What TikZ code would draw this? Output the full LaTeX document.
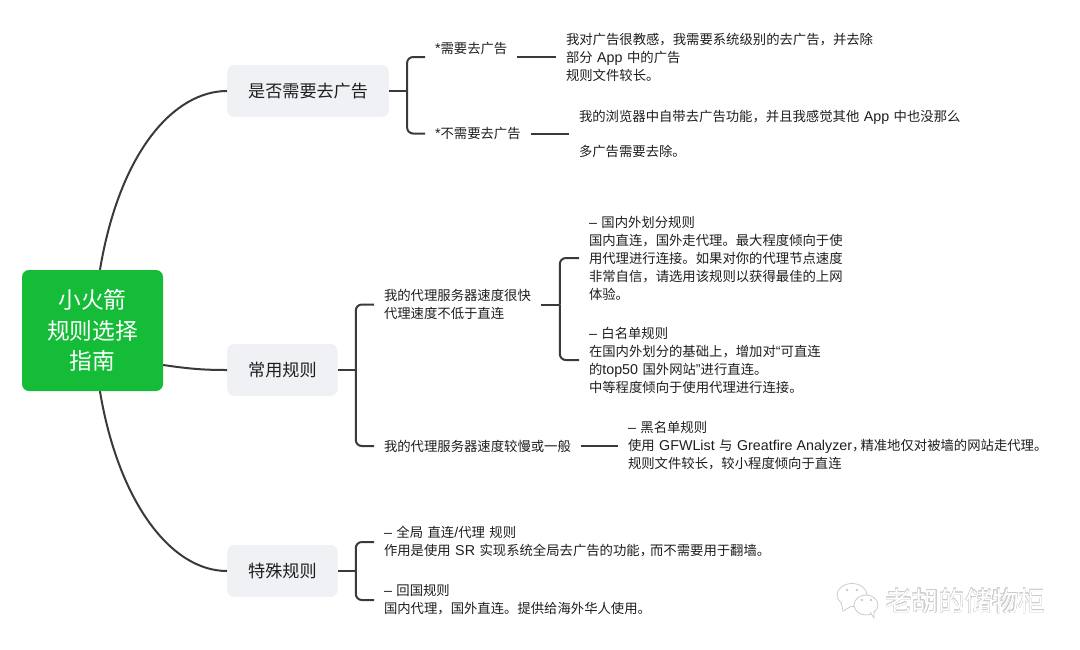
\documentclass[tikz,border=0pt]{standalone}
\usepackage{fontspec}
\usepackage[copies]{contour}
\setmainfont[WordSpace=1.5]{Noto Sans CJK SC}
\newfontfamily\latfont[Scale=1.07]{Liberation Sans}
\newcommand{\lat}[1]{{\latfont #1}}
\contourlength{0.2pt}
\contournumber{16}
\definecolor{rootgreen}{HTML}{14BC38}
\definecolor{topicgray}{HTML}{F0F1F5}
\definecolor{linegray}{HTML}{3A3A3A}
\definecolor{textgray}{HTML}{1E1E1E}
\definecolor{markgray}{HTML}{CCCCCC}
\tikzset{
  rootbox/.style={fill=rootgreen,text=white,rounded corners=7pt,minimum width=141pt,minimum height=121pt,
    inner sep=0pt,align=center,font=\fontsize{22.7}{30.5}\selectfont},
  topicbox/.style={fill=topicgray,text=textgray,rounded corners=7pt,minimum height=52pt,inner xsep=21pt,inner ysep=0pt,
    anchor=west,font=\fontsize{17.1}{22}\selectfont},
  leaf/.style={text=textgray,anchor=west,align=left,inner sep=0pt,outer xsep=10pt,
    font=\fontsize{13.35}{18}\selectfont},
  link/.style={draw=linegray,line width=2pt},
  fork/.style={link,rounded corners=6pt},
  markline/.style={draw=markgray,line width=0.8pt},
}
\begin{document}
\begin{tikzpicture}[x=1pt,y=-1pt]
    \useasboundingbox (0,0) rectangle (1080,649);

    \node[rootbox] (root) at (92.5,330.5) {小火箭\\规则选择\\指南};
    \node[topicbox] (ad) at (227,91) {是否需要去广告};
    \node[topicbox] (common) at (227,370) {常用规则};
    \node[topicbox] (special) at (227,571) {特殊规则};

    \draw[link] (root.83) .. controls (120,150) and (175,91) .. (ad.west);
    \draw[link] (root.-26) .. controls (190,369) and (205,370) .. (common.west);
    \draw[link] (root.-83) .. controls (118,500) and (170,571) .. (special.west);

    \node[leaf] (adyes) at (425,57) {\lat{*}需要去广告\\\mbox{}};
    \node[leaf] (adno) at (425,133.5) {\lat{*}不需要去广告};
    \node[leaf] (adyesnote) at (556,57) {我对广告很教感，我需要系统级别的去广告，并去除\\部分 \lat{App} 中的广告\\规则文件较长。};
    \node[leaf] (adnonote) at (569,133.5) {我的浏览器中自带去广告功能，并且我感觉其他 \lat{App} 中也没那么\\[17pt]多广告需要去除。};

    \draw[link] (ad.east) -- ++(18,0) coordinate (adfork);
    \draw[fork] (adfork) |- (adyes.west);
    \draw[fork] (adfork) |- (adno.west);
    \draw[link] (adyes.east) -- (adyesnote.west);
    \draw[link] (adno.east) -- (adnonote.west);

    \node[leaf] (fast) at (374,304.5) {我的代理服务器速度很快\\代理速度不低于直连};
    \node[leaf] (slow) at (374,446) {我的代理服务器速度较慢或一般};
    \node[leaf] (gfwrule) at (579,258) {\lat{–} 国内外划分规则\\国内直连，国外走代理。最大程度倾向于使\\用代理进行连接。如果对你的代理节点速度\\非常自信，请选用该规则以获得最佳的上网\\体验。};
    \node[leaf] (whiterule) at (579,360) {\lat{–} 白名单规则\\在国内外划分的基础上，增加对\lat{“}可直连\\的\lat{top50} 国外网站\lat{”}进行直连。\\中等程度倾向于使用代理进行连接。};
    \node[leaf] (blackrule) at (618,446) {\lat{–} 黑名单规则\\使用 \lat{GFWList} 与 \lat{Greatfire Analyzer}，\kern-5pt 精准地仅对被墙的网站走代理。\\规则文件较长，较小程度倾向于直连};

    \draw[link] (common.east) -- ++(18,0) coordinate (commonfork);
    \draw[fork] (commonfork) |- (fast.west);
    \draw[fork] (commonfork) |- (slow.west);
    \draw[link] (fast.east) -- ++(19,0) coordinate (fastfork);
    \draw[fork] (fastfork) |- (gfwrule.west);
    \draw[fork] (fastfork) |- (whiterule.west);
    \draw[link] (slow.east) -- (blackrule.west);

    \node[leaf] (globalrule) at (374,542) {\lat{–} 全局 直连\lat{/}代理 规则\\作用是使用 \lat{SR} 实现系统全局去广告的功能，\kern-3pt 而不需要用于翻墙。};
    \node[leaf] (homerule) at (374,600) {\lat{–} 回国规则\\国内代理，国外直连。提供给海外华人使用。};

    \draw[link] (special.east) -- ++(18,0) coordinate (specialfork);
    \draw[fork] (specialfork) |- (globalrule.west);
    \draw[fork] (specialfork) |- (homerule.west);

    \draw[markline,fill=white] (852,595) ellipse [x radius=15,y radius=11.5];
    \draw[markline,fill=white] (841,602) -- (843,611) -- (851,606.5);
    \draw[markline,fill=white] (866,605) ellipse [x radius=12,y radius=10];
    \draw[markline,fill=white] (870,612) -- (874,618) -- (874,610);
    \fill[markgray] (847,590) circle (1.3) (857,590) circle (1.3) (862,600) circle (1.3) (871,600) circle (1.3);
    \node[anchor=west,inner sep=0pt,font=\fontsize{26.7}{30}\selectfont,text=white] (mark) at (885,601) {\contour{markgray}{老胡的储物柜}};
\end{tikzpicture}
\end{document}
